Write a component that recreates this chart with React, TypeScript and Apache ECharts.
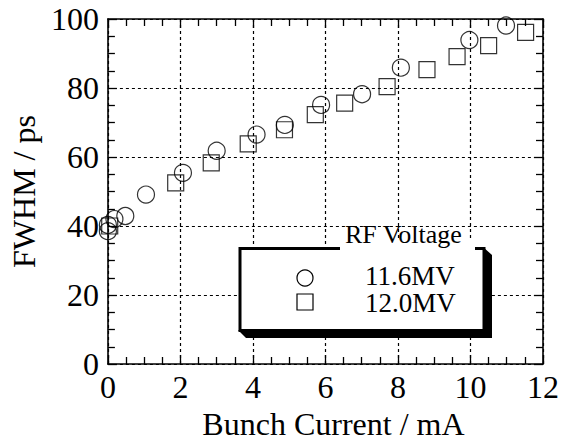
import React, { useEffect, useRef } from "react";
import * as echarts from "echarts";

const FONT = "Liberation Serif";

const current116 = [0, 0, 0.18, 0.48, 1.05, 2.07, 3.0, 4.1, 4.88, 5.88, 7.01, 8.08, 9.97, 10.98];
const fwhm116 = [38.5, 40.3, 42.0, 42.9, 49.1, 55.4, 61.8, 66.5, 69.3, 75.1, 78.2, 85.9, 93.9, 98.1];
const current120 = [0.05, 1.87, 2.85, 3.87, 4.87, 5.72, 6.53, 7.7, 8.8, 9.63, 10.5, 11.52];
const fwhm120 = [40.0, 52.5, 58.3, 63.8, 67.9, 72.3, 75.6, 80.4, 85.3, 89.1, 92.3, 96.1];
const seriesNames = ["11.6MV", "12.0MV"];
const legendTitle = "RF Voltage";

export default function App() {
  const ref = useRef<HTMLDivElement>(null);
  useEffect(() => {
    if (!ref.current) return;
    const chart = echarts.init(ref.current, undefined, { renderer: "svg" });
    const black = "#000";
    const axisCommon = {
      type: "value" as const,
      axisLine: { show: true, onZero: false, lineStyle: { color: black, width: 1.6 } },
      axisTick: { show: true, inside: true, length: 9, lineStyle: { color: black, width: 1.3 } },
      minorTick: { show: true, splitNumber: 4, length: 7, lineStyle: { color: black, width: 1.3 } },
    };
    const splitLine = { show: true, lineStyle: { color: black, type: [3, 3], width: 1.2 } };
    const labelStyle = { fontSize: 32, fontFamily: FONT, color: black };
    chart.setOption({
      animation: false,
      backgroundColor: "#fff",
      textStyle: { fontFamily: FONT, color: black },
      grid: { left: 107, right: 31, top: 19, bottom: 80 },
      xAxis: [
        {
          ...axisCommon,
          position: "bottom",
          min: 0,
          max: 12,
          interval: 2,
          name: "Bunch Current / mA",
          nameLocation: "middle",
          nameGap: 44,
          nameTextStyle: { ...labelStyle, padding: [0, 0, 0, 16] },
          axisLabel: { ...labelStyle, margin: 7 },
          splitLine,
        },
        {
          ...axisCommon,
          position: "top",
          min: 0,
          max: 12,
          interval: 2,
          axisLabel: { show: false },
          splitLine: { show: false },
        },
      ],
      yAxis: [
        {
          ...axisCommon,
          position: "left",
          min: 0,
          max: 100,
          interval: 20,
          name: "FWHM / ps",
          nameLocation: "middle",
          nameGap: 62,
          nameTextStyle: { ...labelStyle },
          axisLabel: { ...labelStyle, margin: 9 },
          splitLine,
        },
        {
          ...axisCommon,
          position: "right",
          min: 0,
          max: 100,
          interval: 20,
          axisLabel: { show: false },
          splitLine: { show: false },
        },
      ],
      series: [
        {
          name: seriesNames[0],
          type: "scatter",
          symbol: "circle",
          symbolSize: 17,
          clip: false,
          itemStyle: { color: "rgba(0,0,0,0)", borderColor: black, borderWidth: 1.2 },
          data: current116.map((x, i) => [x, fwhm116[i]]),
        },
        {
          name: seriesNames[1],
          type: "scatter",
          symbol: "rect",
          symbolSize: 16,
          clip: false,
          itemStyle: { color: "rgba(0,0,0,0)", borderColor: black, borderWidth: 1.2 },
          data: current120.map((x, i) => [x, fwhm120[i]]),
        },
      ],
      graphic: [
        {
          type: "polygon",
          z: 100,
          shape: {
            points: [
              [483, 247],
              [492, 255],
              [492, 338],
              [246, 338],
              [238, 330],
              [483, 330],
            ],
          },
          style: { fill: black },
        },
        {
          type: "rect",
          z: 101,
          shape: { x: 240, y: 248.5, width: 244, height: 82 },
          style: { fill: "#fff", stroke: black, lineWidth: 3 },
        },
        {
          type: "rect",
          z: 102,
          shape: { x: 340, y: 240, width: 135, height: 12 },
          style: { fill: "#fff" },
        },
        {
          type: "text",
          z: 103,
          x: 345,
          y: 234.5,
          style: {
            text: legendTitle,
            fontFamily: FONT,
            fontSize: 26,
            fill: black,
            align: "left",
            verticalAlign: "middle",
          },
        },
        {
          type: "circle",
          z: 103,
          shape: { cx: 305, cy: 278, r: 8 },
          style: { fill: "rgba(0,0,0,0)", stroke: black, lineWidth: 1.2 },
        },
        {
          type: "rect",
          z: 103,
          shape: { x: 297, y: 294, width: 16, height: 16 },
          style: { fill: "rgba(0,0,0,0)", stroke: black, lineWidth: 1.2 },
        },
        {
          type: "text",
          z: 103,
          x: 365,
          y: 289,
          style: {
            text: seriesNames[0] + "\n" + seriesNames[1],
            fontFamily: FONT,
            fontSize: 27,
            lineHeight: 27,
            fill: black,
            align: "left",
            verticalAlign: "middle",
          },
        },
      ],
    });
    return () => chart.dispose();
  }, []);
  return (
    <div
      ref={ref}
      style={{ position: "absolute", left: 0, top: 0, width: 574, height: 445 }}
    />
  );
}
